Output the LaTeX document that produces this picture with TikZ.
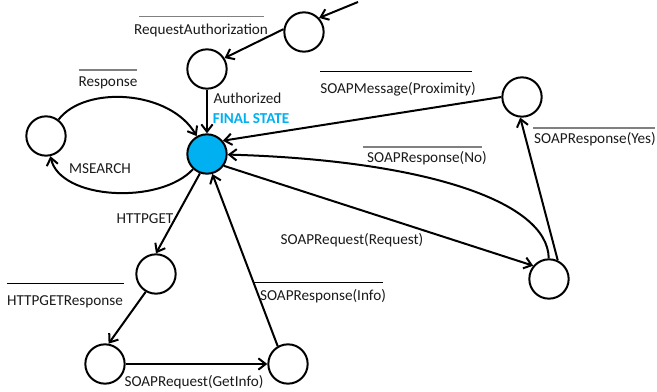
\documentclass[tikz,border=0pt]{standalone}
\usepackage{fontspec}
\setmainfont{Carlito}
\usetikzlibrary{arrows.meta}
\definecolor{fin}{HTML}{00B0F0}
\definecolor{txt}{HTML}{1A1A1A}
\begin{document}
\begin{tikzpicture}[x=0.75pt,y=-0.75pt,
  state/.style={circle,draw=black,line width=1.5pt,minimum size=29.5pt,inner sep=0pt},
  arr/.style={line width=1.5pt,-{Straight Barb[length=5.5pt,width=8.5pt]}},
  lab/.style={font=\fontsize{11.4}{13}\selectfont,text=txt,inner sep=0pt},
  ovl/.style={line width=0.75pt,black},
  ovlg/.style={line width=0.9pt,gray}]
\useasboundingbox (0,0) rectangle (657,392);
% states
\node[state,fill=fin] (F) at (207,154) {};
\node[state] (A) at (207,69) {};
\node[state] (T) at (304,32) {};
\node[state] (L) at (46,136) {};
\node[state] (P) at (522,97) {};
\node[state] (B) at (549,279) {};
\node[state] (H) at (156,274) {};
\node[state] (BL) at (105,364) {};
\node[state] (BM) at (288,364) {};
\coordinate (in) at (358,2);
% connectors
\draw[arr] (in) -- (T.43);
\draw[arr] (T.172) -- (A.32);
\draw[arr] (A) -- (F);
\draw[arr] (L) .. controls (85,85) and (170,90) .. (F);
\draw[arr] (F) .. controls (160,205) and (60,200) .. (L);
\draw[arr] (P.180) -- (F.40);
\draw[arr] (B) .. controls (548,200) and (420,160) .. (F);
\draw[arr] (F.325) -- (B.140);
\draw[arr] (B.65) -- (P.265);
\draw[arr] (F.250) -- (H.90);
\draw[arr] (H.240) -- (BL.80);
\draw[arr] (BL) -- (BM);
\draw[arr] (BM.120) -- (F.285);
% labels
\node[lab] (lRA) at (201,30) {RequestAuthorization};
\draw[ovlg] (139,16.7) -- (264,16.7);
\node[lab] (lResp) at (108,83) {Response};
\draw[ovlg] (79,70) -- (137,70);
\node[lab] (lMS) at (100,169) {MSEARCH};
\node[lab] (lAuth) at (247.5,98) {Authorized};
\node[lab,text=fin,font=\fontsize{11.4}{13}\selectfont\bfseries] (lFin) at (251,119) {FINAL STATE};
\node[lab] (lProx) at (398,89) {SOAPMessage(Proximity)};
\draw[ovl] (320,72) -- (472,72);
\node[lab] (lNo) at (427,158) {SOAPResponse(No)};
\draw[ovlg] (363,147) -- (482,147);
\node[lab] (lYes) at (595,139) {SOAPResponse(Yes)};
\draw[ovlg] (533,128) -- (655,128);
\node[lab] (lReq) at (352,240) {SOAPRequest(Request)};
\node[lab] (lHG) at (145,219) {HTTPGET};
\node[lab] (lHGR) at (65,302) {HTTPGETResponse};
\draw[ovl] (7,283) -- (124,283);
\node[lab] (lGI) at (194,382) {SOAPRequest(GetInfo)};
\node[lab] (lInfo) at (323,296) {SOAPResponse(Info)};
\draw[ovl] (254,282) -- (383,282);
\end{tikzpicture}
\end{document}
